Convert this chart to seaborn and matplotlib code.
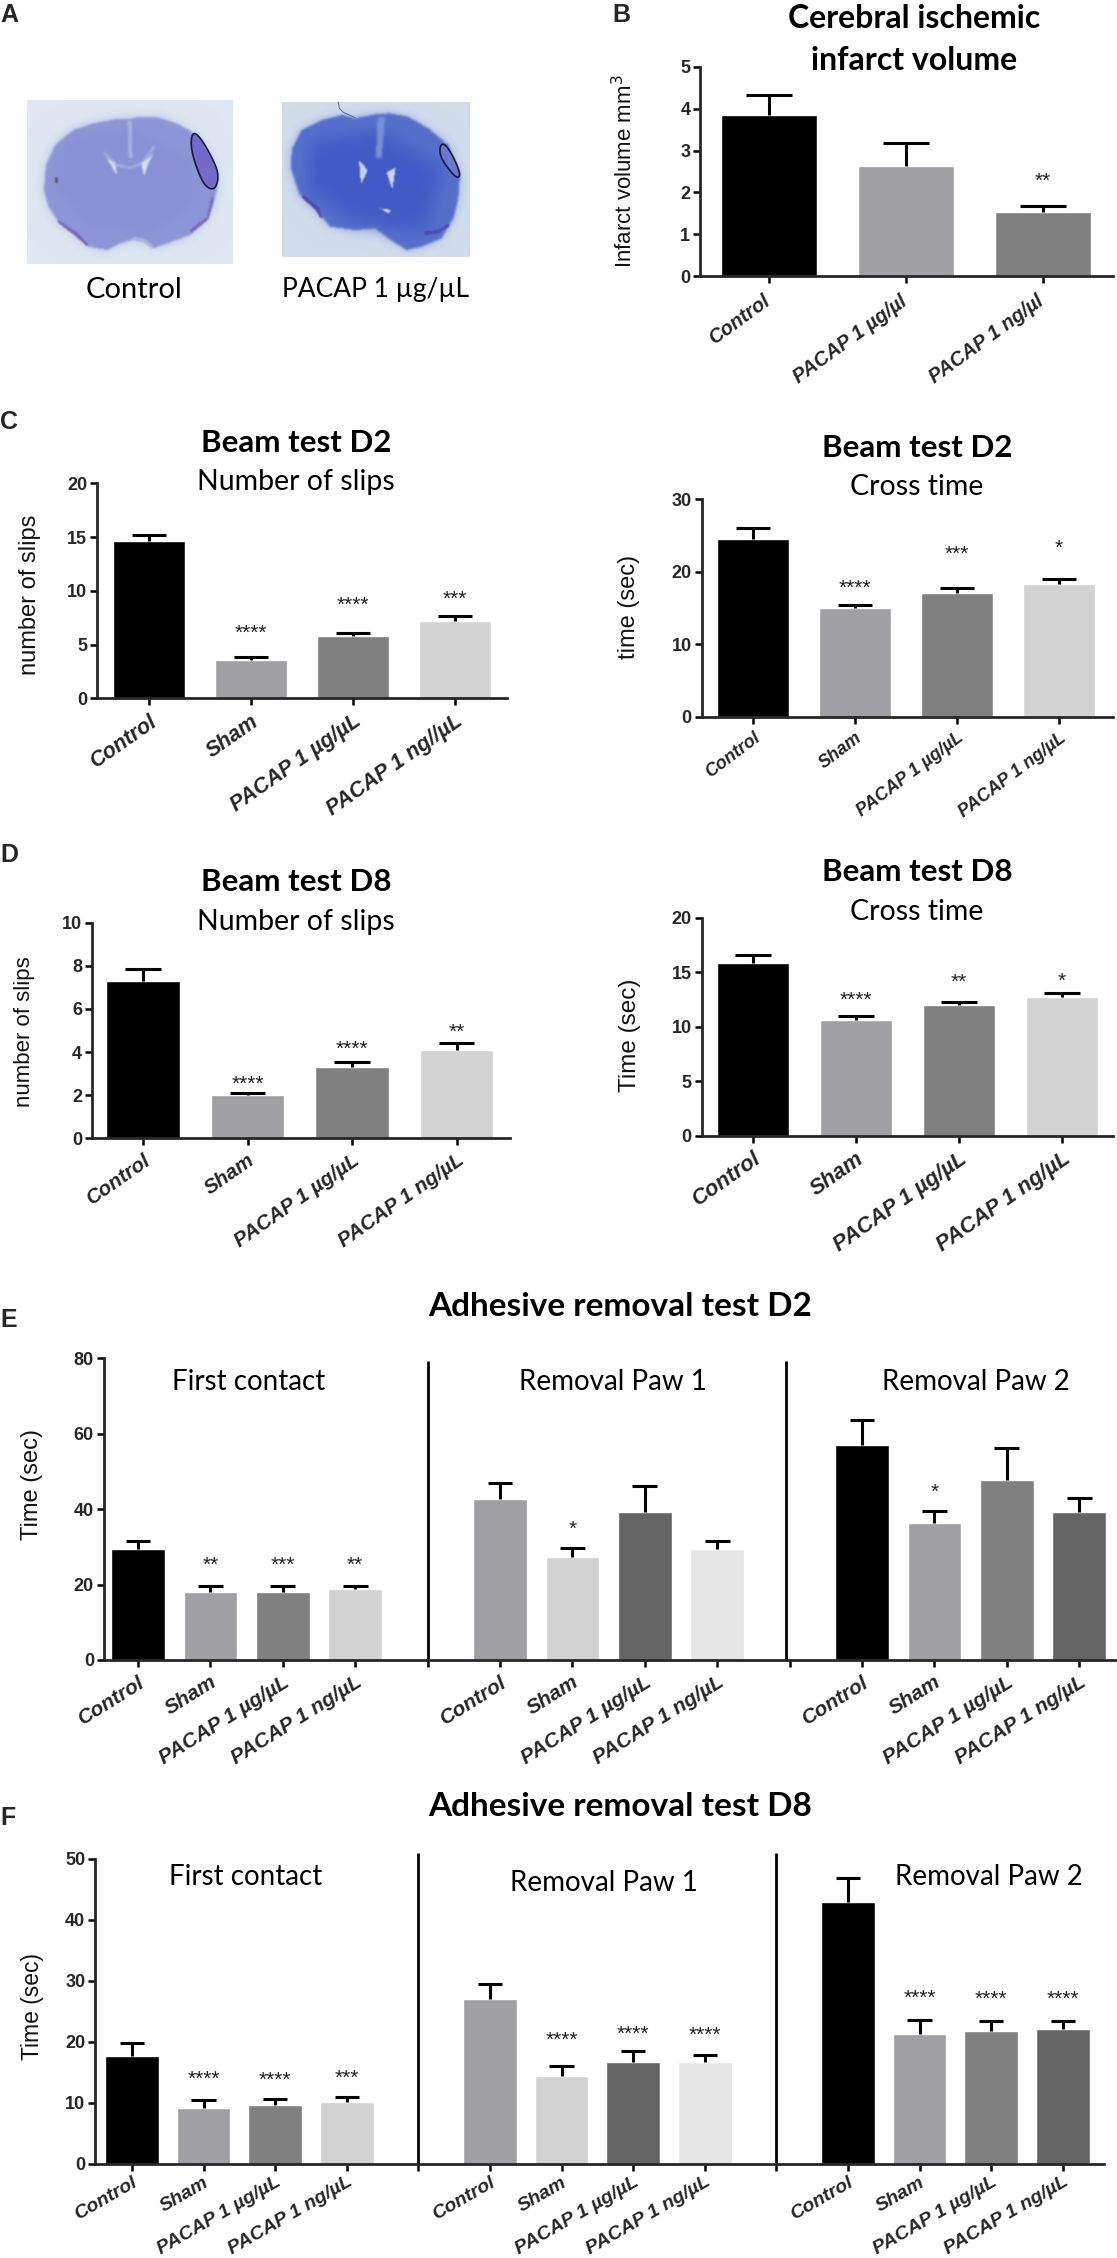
import numpy as np
import pandas as pd
import matplotlib
matplotlib.use("Agg")
import matplotlib.pyplot as plt
from matplotlib.path import Path
from matplotlib.patches import Polygon
from matplotlib.transforms import ScaledTranslation
import matplotlib.colors as mcolors
import seaborn as sns

W, H = 1117, 2258

LABELS_UG = ["Control", "PACAP 1 µg/µl", "PACAP 1 ng/µl"]
LABELS_C1 = ["Control", "Sham", "PACAP 1 µg/µL", "PACAP 1 ng//µL"]
LABELS = ["Control", "Sham", "PACAP 1 µg/µL", "PACAP 1 ng/µL"]
LABELS_3 = LABELS + [""] + LABELS + [""] + LABELS

BLACK, G1, G2, G3, G4, G5 = "#000000", "#A0A0A4", "#808080", "#D2D2D2", "#646464", "#E6E6E6"
COLORS_4 = [BLACK, G1, G2, G3]
COLORS_3 = [BLACK, G1, G2, G3, "#ffffff", G1, G3, G4, G5, "#ffffff", BLACK, G1, G2, G4]

# panel B
infarct_mean = [3.84, 2.62, 1.54]
infarct_top = [4.32, 3.17, 1.68]
infarct_star = ["", "", "**"]
infarct_star_y = [0, 0, 2.42]

# panel C
slips_d2_mean = [14.6, 3.55, 5.8, 7.22]
slips_d2_top = [15.2, 3.8, 6.1, 7.66]
slips_d2_star = ["", "****", "****", "***"]
slips_d2_star_y = [0, 6.67, 9.24, 9.83]

cross_d2_mean = [24.5, 15.0, 17.0, 18.3]
cross_d2_top = [26.0, 15.4, 17.8, 19.0]
cross_d2_star = ["", "****", "***", "*"]
cross_d2_star_y = [0, 18.5, 23.2, 24.1]

# panel D
slips_d8_mean = [7.3, 2.0, 3.3, 4.08]
slips_d8_top = [7.85, 2.1, 3.55, 4.4]
slips_d8_star = ["", "****", "****", "**"]
slips_d8_star_y = [0, 2.78, 4.4, 5.2]

cross_d8_mean = [15.85, 10.6, 11.95, 12.7]
cross_d8_top = [16.6, 11.0, 12.3, 13.1]
cross_d8_star = ["", "****", "**", "*"]
cross_d8_star_y = [0, 13.05, 14.65, 14.77]

# panel E, blank slots between the three groups
adhesive_d2_mean = [29.5, 18.0, 17.9, 18.75, np.nan, 42.6, 27.2, 39.3, 29.5, np.nan, 56.9, 36.25, 47.7, 39.3]
adhesive_d2_top = [31.65, 19.7, 19.6, 19.7, np.nan, 47.0, 29.6, 46.2, 31.65, np.nan, 63.6, 39.5, 56.2, 42.9]
adhesive_d2_star = ["", "**", "***", "**", "", "", "*", "", "", "", "", "*", "", ""]
adhesive_d2_star_y = [0, 26.7, 26.7, 26.7, 0, 0, 36.25, 0, 0, 0, 0, 46.2, 0, 0]

# panel F
adhesive_d8_mean = [17.7, 9.1, 9.6, 10.1, np.nan, 27.1, 14.35, 16.7, 16.65, np.nan, 42.85, 21.35, 21.8, 22.05]
adhesive_d8_top = [19.75, 10.5, 10.65, 11.0, np.nan, 29.5, 16.05, 18.5, 17.85, np.nan, 46.8, 23.65, 23.5, 23.4]
adhesive_d8_star = ["", "****", "****", "***", "", "", "****", "****", "****", "", "", "****", "****", "****"]
adhesive_d8_star_y = [0, 14.95, 14.75, 15.1, 0, 0, 21.3, 22.3, 22.1, 0, 0, 28.2, 27.95, 27.95]

sns.set_style("ticks")
plt.rcParams["font.family"] = ["Liberation Sans", "DejaVu Sans"]

fig = plt.figure(figsize=(W / 100, H / 100), dpi=100)

# pixel space layer for the titles and the photos of panel A
page = fig.add_axes([0, 0, 1, 1], zorder=5)
page.patch.set_alpha(0)
page.axis("off")


def bar_panel(box, first, step, ymax, yticks, labels, means, tops, colors, stars, star_y,
              width=0.7, tick_fs=13, label_fs=14, rot=35, star_fs=15, label_dx=0, label_pad=4):
    left, right, top, bottom = box
    ax = fig.add_axes([left / W, 1 - bottom / H, (right - left) / W, (bottom - top) / H])
    slots = ["s%d" % i for i in range(len(labels))]
    df = pd.DataFrame({"slot": slots, "value": means}).dropna()
    pal = dict(zip(slots, colors))
    sns.barplot(data=df, x="slot", y="value", hue="slot", order=slots, hue_order=slots,
                palette=pal, saturation=1, width=width, dodge=False, legend=False,
                errorbar=None, ax=ax)
    xs = np.arange(len(labels))
    m = np.array(means, dtype=float)
    t = np.array(tops, dtype=float)
    ax.vlines(xs, m, t, color="black", lw=2.2, zorder=3)
    ax.hlines(t, xs - 0.17, xs + 0.17, color="black", lw=2.2, zorder=3)
    for x, s, y in zip(xs, stars, star_y):
        if s:
            ax.annotate(s, xy=(x, y), xytext=(0, -0.57 * star_fs), textcoords="offset points",
                        ha="center", va="baseline", fontsize=star_fs, color="#222222",
                        annotation_clip=False)
    ax.set_xlim((left - first) / step, (right - first) / step)
    ax.set_ylim(0, ymax)
    ax.set_yticks(yticks)
    ax.set_xticks(xs)
    ax.set_xticklabels(labels, rotation=rot, ha="right", rotation_mode="anchor",
                       fontsize=label_fs, fontweight="bold", fontstyle="italic")
    ax.set_yticklabels([str(v) for v in yticks], fontsize=tick_fs, fontweight="bold")
    ax.set_xlabel("")
    ax.set_ylabel("")
    ax.tick_params(axis="both", width=1.8, length=5, pad=2, color="black")
    ax.tick_params(axis="x", pad=label_pad)
    if label_dx:
        shift = ScaledTranslation(label_dx * 0.72 / 72, 0, fig.dpi_scale_trans)
        for lab in ax.get_xticklabels():
            lab.set_transform(lab.get_transform() + shift)
    ax.patch.set_alpha(0)
    sns.despine(ax=ax)
    ax.spines["left"].set_linewidth(2)
    ax.spines["bottom"].set_linewidth(2)
    return ax


def title(x, y, s, fs=22.5, bold=True):
    page.text(x, y, s, ha="center", va="center", fontsize=fs, family="Lato", color="black",
              fontweight="bold" if bold else "normal")


def ylab(x, y, s, fs):
    page.text(x, y, s, ha="center", va="center", rotation=90, fontsize=fs, color="#111111")


def letter(x, y, s):
    page.text(x, y, s, ha="left", va="center", fontsize=18, fontweight="bold")


def soft_mask(poly, shape, sigma):
    yy, xx = np.mgrid[0:shape[0], 0:shape[1]]
    pts = np.column_stack([xx.ravel() + 0.5, yy.ravel() + 0.5])
    mask = Path(poly).contains_points(pts).reshape(shape).astype(float)
    if sigma > 0:
        r = int(3 * sigma) + 1
        kernel = np.exp(-0.5 * (np.arange(-r, r + 1) / sigma) ** 2)
        kernel /= kernel.sum()
        pad = np.pad(mask, r, mode="edge")
        pad = np.apply_along_axis(lambda v: np.convolve(v, kernel, mode="same"), 0, pad)
        pad = np.apply_along_axis(lambda v: np.convolve(v, kernel, mode="same"), 1, pad)
        mask = pad[r:-r, r:-r]
    return mask


def round_poly(pts, n=3):
    # corner cutting, the outlines come out less angular
    p = np.array(pts, dtype=float)
    for _ in range(n):
        nxt = np.roll(p, -1, axis=0)
        p = np.column_stack([0.75 * p + 0.25 * nxt, 0.25 * p + 0.75 * nxt]).reshape(-1, 2)
    return p


def photo(rect, origin, bg, layers, infarct, infarct_fc):
    # origin is the top-left of the crop I read the outlines from, at 3x
    l, t, r, b = rect
    shape = (b - t, r - l)
    img = np.ones(shape + (3,)) * mcolors.to_rgb(bg)
    off = np.array([origin[0] - l, origin[1] - t])
    for poly, color, sigma, alpha in layers:
        m = soft_mask(np.array(poly, dtype=float) / 3 + off, shape, sigma)[..., None] * alpha
        img = img * (1 - m) + np.array(mcolors.to_rgb(color)) * m
    page.imshow(img, extent=(l, r, b, t), aspect="auto", interpolation="bilinear")
    q = round_poly(infarct, 2) / 3 + origin
    page.add_patch(Polygon(q, closed=True, fc=infarct_fc, ec="#15152a", lw=1.2, alpha=0.95))


# panel A
control_outline = [(330, 72), (360, 65), (420, 68), (470, 85), (515, 110), (560, 170), (590, 230), (590, 290),
                   (575, 340), (555, 380), (510, 420), (470, 435), (400, 460), (375, 440), (340, 432), (300, 445),
                   (260, 465), (205, 455), (165, 420), (115, 380), (85, 335), (72, 285), (78, 210), (105, 150),
                   (160, 105), (220, 85), (290, 72)]
control_layers = [
    (control_outline, "#B4BEE4", 7, 0.8),
    (control_outline, "#8D96D6", 1.2, 1),
    ([(150, 130), (330, 100), (500, 180), (530, 320), (400, 420), (200, 390), (110, 280)], "#8790D4", 6, 0.8),
    ([(322, 78), (335, 78), (338, 190), (326, 190)], "#A8B6E0", 1, 0.9),
    ([(255, 170), (290, 205), (330, 215), (365, 200), (400, 150), (405, 160), (370, 210), (330, 222),
      (285, 215), (250, 175)], "#9FB2DE", 1, 0.9),
    ([(262, 190), (285, 205), (292, 240), (280, 225)], "#D8E0F0", 1, 1),
    ([(398, 178), (385, 205), (372, 245), (364, 205)], "#D8E0F0", 1, 1),
    ([(104, 245), (112, 245), (115, 265), (106, 265)], "#6A5A5A", 0.7, 1),
    ([(115, 375), (165, 408), (205, 445), (200, 452), (160, 418), (112, 382)], "#7A62B8", 0.8, 0.9),
    ([(510, 405), (560, 365), (575, 305), (582, 310), (566, 372), (514, 414)], "#7A62B8", 0.8, 0.9),
    ([(340, 425), (375, 432), (400, 452), (395, 460), (372, 442), (340, 434)], "#A9B8E0", 0.8, 0.8),
]
control_infarct = [(516, 110), (540, 125), (575, 185), (596, 235), (590, 275), (572, 285), (545, 260), (512, 165)]
photo((27, 100, 233, 264), (20, 95), "#DFE8F2", control_layers, control_infarct, "#7468CC")

pacap_outline = [(240, 70), (300, 58), (345, 55), (400, 65), (460, 100), (520, 150), (555, 240), (550, 310), (535, 370),
                 (500, 430), (440, 455), (395, 465), (340, 430), (300, 400), (240, 405), (165, 395), (130, 350),
                 (75, 300), (48, 220), (50, 165), (80, 105), (140, 75), (200, 60)]
pacap_layers = [
    (pacap_outline, "#8EA0DA", 6, 0.7),
    (pacap_outline, "#5570CC", 1.2, 1),
    ([(110, 140), (320, 110), (500, 220), (450, 410), (230, 375), (100, 280)], "#3F58C6", 8, 0.9),
    ([(308, 68), (330, 66), (320, 190), (303, 190)], "#7C96DA", 1.2, 0.9),
    ([(252, 196), (278, 225), (258, 268)], "#C8D6EE", 0.8, 1),
    ([(362, 218), (335, 232), (352, 282)], "#C8D6EE", 0.8, 1),
    ([(315, 340), (350, 345), (340, 355)], "#C8D6EE", 0.8, 1),
    ([(85, 300), (130, 335), (145, 370), (135, 368), (120, 342), (80, 308)], "#4A3FA8", 0.8, 0.8),
    ([(445, 410), (490, 405), (520, 385), (522, 395), (490, 415), (450, 420)], "#4A3FA8", 0.8, 0.8),
]
pacap_infarct = [(495, 150), (510, 146), (535, 185), (556, 235), (550, 250), (530, 235), (495, 185)]
photo((282, 102, 470, 257), (275, 95), "#D2DDEC", pacap_layers, pacap_infarct, "#6C78D4")
page.plot(np.array([190, 193, 205, 240]) / 3 + 275, np.array([22, 40, 52, 68]) / 3 + 95, color="#5a6a8a", lw=0.7)

page.set_xlim(0, W)
page.set_ylim(H, 0)

title(134, 290, "Control", 21, False)
title(376, 289, "PACAP 1 µg/µL", 19, False)

letter(0, 15, "A")
letter(612, 15, "B")
letter(0, 422, "C")
letter(0, 855, "D")
letter(0, 1320, "E")
letter(0, 1818, "F")

# panel B
bar_panel((700, 1113, 66.7, 276.3), 769, 137, 5, [0, 1, 2, 3, 4, 5], LABELS_UG, infarct_mean, infarct_top,
          COLORS_4[:3], infarct_star, infarct_star_y, label_fs=14.3, rot=36, label_dx=-7, label_pad=6)
title(914, 18, "Cerebral ischemic", 23)
title(914, 60, "infarct volume", 23)
ylab(625, 171, "Infarct volume mm$^3$", 16)

# panel C
bar_panel((97, 507, 483.3, 698.3), 149, 102, 20, [0, 5, 10, 15, 20], LABELS_C1, slips_d2_mean, slips_d2_top,
          COLORS_4, slips_d2_star, slips_d2_star_y, label_fs=15.5)
title(296, 443, "Beam test D2")
title(296, 482, "Number of slips", 20.5, False)
ylab(30, 595, "number of slips", 17)

bar_panel((701.5, 1113, 499, 716.7), 753, 102, 30, [0, 10, 20, 30], LABELS, cross_d2_mean, cross_d2_top,
          COLORS_4, cross_d2_star, cross_d2_star_y, label_fs=13, rot=37)
title(917, 448, "Beam test D2")
title(917, 487, "Cross time", 20.5, False)
ylab(629, 607, "time (sec)", 17)

# panel D
bar_panel((91.6, 510, 922.7, 1138.3), 143, 104.5, 10, [0, 2, 4, 6, 8, 10], LABELS, slips_d8_mean, slips_d8_top,
          COLORS_4, slips_d8_star, slips_d8_star_y, label_fs=14.9)
title(296, 882, "Beam test D8")
title(296, 922, "Number of slips", 20.5, False)
ylab(25, 1032, "number of slips", 16)

bar_panel((701.5, 1113, 917.7, 1135.7), 753, 103, 20, [0, 5, 10, 15, 20], LABELS, cross_d8_mean, cross_d8_top,
          COLORS_4, cross_d8_star, cross_d8_star_y, label_fs=15.8)
title(917, 872, "Beam test D8")
title(917, 912, "Cross time", 20.5, False)
ylab(630, 1035, "Time (sec)", 17.5)

# panel E
ax_e = bar_panel((103.6, 1117, 1358.3, 1660), 138, 72.4, 80, [0, 20, 40, 60, 80], LABELS_3, adhesive_d2_mean,
                 adhesive_d2_top, COLORS_3, adhesive_d2_star, adhesive_d2_star_y, width=0.74, label_fs=15, rot=32)
ax_e.vlines([4, 8.95], 0, 79.3, color="black", lw=2, clip_on=False)
title(620, 1307, "Adhesive removal test D2", 24)
title(249, 1382, "First contact", 20, False)
title(613, 1382, "Removal Paw 1", 20, False)
title(976, 1382, "Removal Paw 2", 20, False)
ylab(32, 1484, "Time (sec)", 17)

# panel F, labels a bit smaller so they stay on the page
ax_f = bar_panel((95, 1104, 1858.7, 2164), 132, 71.6, 50, [0, 10, 20, 30, 40, 50], LABELS_3, adhesive_d8_mean,
                 adhesive_d8_top, COLORS_3, adhesive_d8_star, adhesive_d8_star_y, width=0.75, label_fs=14, rot=30,
                 label_pad=2)
ax_f.vlines([4, 9], 0, 51, color="black", lw=2, clip_on=False)
title(620, 1806, "Adhesive removal test D8", 24)
title(246, 1877, "First contact", 20, False)
title(604, 1883, "Removal Paw 1", 20, False)
title(989, 1877, "Removal Paw 2", 20, False)
ylab(32, 2007, "Time (sec)", 16.5)

fig.savefig("out.png", dpi=100, facecolor="white")
